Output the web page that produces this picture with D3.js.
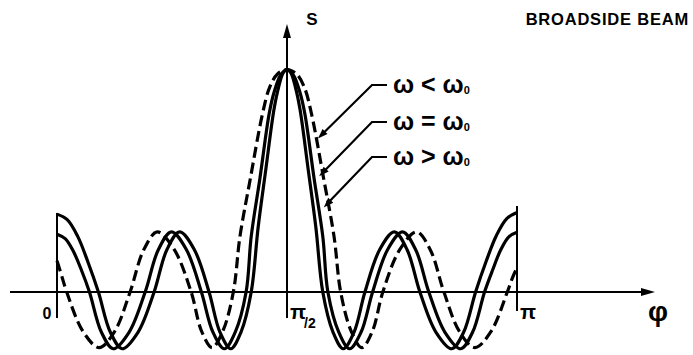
<!DOCTYPE html>
<html>
<head>
<meta charset="utf-8">
<script src="https://cdn.jsdelivr.net/npm/d3@7"></script>
<style>
  body { margin: 0; background: #fff; }
  text { font-family: "Liberation Sans", Arial, sans-serif; font-weight: bold; fill: #000; }
</style>
</head>
<body>
<svg id="chart" width="693" height="355"></svg>
<script>
// Axis ticks (φ in degrees) and their labels
const tickValues = [0, 90, 180];
const tickLabels = ["0", "π", "π"];
const seriesNames = ["ω < ω", "ω = ω", "ω > ω"];

// Radiation pattern S(φ), φ in degrees — ω < ω0 (dashed, widest main lobe)
const patternBelow = [
  [0, 0.14], [1.9, 0.07], [3.8, 0], [10.15, -0.177], [16.5, -0.25], [22.55, -0.177], [28.6, 0],
  [33.95, 0.19], [39.3, 0.27], [45.9, 0.19], [52.5, 0], [56.6, -0.177], [60.7, -0.25], [64.85, -0.177],
  [69, 0], [71.6, 0.25], [75.5, 0.5], [80.4, 0.8], [83.2, 0.92], [86.3, 0.98], [90, 1],
  [93.7, 0.98], [96.8, 0.92], [99.6, 0.8], [104.5, 0.5], [108.4, 0.25], [111, 0],
  [115.15, -0.177], [119.3, -0.25], [123.4, -0.177], [127.5, 0], [134.1, 0.19], [140.7, 0.27],
  [146.05, 0.19], [151.4, 0], [157.45, -0.177], [163.5, -0.25], [169.85, -0.177], [176.2, 0],
  [178.1, 0.06], [180, 0.11]
];

// ω = ω0
const patternEqual = [
  [0, 0.26], [3.2, 0.24], [6.35, 0.184], [9.5, 0.1], [12.7, 0], [17.35, -0.18], [22, -0.255],
  [28.25, -0.18], [34.5, 0], [39.65, 0.19], [44.8, 0.27], [50.65, 0.19], [56.5, 0], [61, -0.18],
  [65.5, -0.255], [69.75, -0.18], [74, 0], [76, 0.25], [79.4, 0.51], [83, 0.8], [85, 0.9], [87.5, 0.975],
  [90, 1],
  [92.5, 0.975], [95, 0.9], [97, 0.8], [100.6, 0.51], [104, 0.25], [106, 0], [110.25, -0.18],
  [114.5, -0.255], [119, -0.18], [123.5, 0], [129.35, 0.19], [135.2, 0.27], [140.35, 0.19], [145.5, 0],
  [151.75, -0.18], [158, -0.255], [162.65, -0.18], [167.3, 0], [170.5, 0.1], [173.65, 0.19],
  [176.8, 0.248], [180, 0.268]
];

// ω > ω0 (narrowest main lobe)
const patternAbove = [
  [0, 0.35], [4, 0.325], [8.1, 0.25], [12.1, 0.135], [16.2, 0], [20.85, -0.18], [25.5, -0.255],
  [31.75, -0.18], [38, 0], [43, 0.19], [48, 0.27], [53.75, 0.19], [59.5, 0], [63.75, -0.18],
  [68, -0.255], [72, -0.18], [76, 0], [78.7, 0.29], [81.7, 0.55], [84.9, 0.82], [86.7, 0.92],
  [88.5, 0.985], [90, 1],
  [91.5, 0.985], [93.3, 0.92], [95.1, 0.82], [98.3, 0.55], [101.3, 0.29], [104, 0], [108, -0.18],
  [112, -0.255], [116.25, -0.18], [120.5, 0], [126.25, 0.19], [132, 0.27], [137, 0.19], [142, 0],
  [148.25, -0.18], [154.5, -0.255], [159.15, -0.18], [163.8, 0], [167.9, 0.137], [171.9, 0.253],
  [176, 0.33], [180, 0.357]
];

const svg = d3.select("#chart");
const x = d3.scaleLinear().domain([0, 180]).range([57, 517]);
const y = d3.scaleLinear().domain([0, 1]).range([292, 69.5]);

function arrowHead(tx, ty, fx, fy, len, half) {
  const a = Math.atan2(ty - fy, tx - fx);
  const bx = tx - len * Math.cos(a), by = ty - len * Math.sin(a);
  const px = -Math.sin(a) * half, py = Math.cos(a) * half;
  return `M${tx},${ty}L${bx + px},${by + py}L${bx - px},${by - py}Z`;
}

const ink = "#000";

// φ axis with arrow
const axisY = y(0);
svg.append("line").attr("x1", 10).attr("x2", 645).attr("y1", axisY).attr("y2", axisY)
  .attr("stroke", ink).attr("stroke-width", 2.2);
svg.append("path").attr("d", arrowHead(655, axisY, 10, axisY, 14, 4)).attr("fill", ink);

// S axis at φ = π/2, with arrow
const cx = x(90);
svg.append("line").attr("x1", cx).attr("x2", cx).attr("y1", 318).attr("y2", 34)
  .attr("stroke", ink).attr("stroke-width", 2);
svg.append("path").attr("d", arrowHead(cx, 24, cx, 318, 14, 4)).attr("fill", ink);

// Boundary lines at φ = 0 and φ = π
svg.append("line").attr("x1", x(0)).attr("x2", x(0)).attr("y1", 213).attr("y2", 318)
  .attr("stroke", ink).attr("stroke-width", 2);
svg.append("line").attr("x1", x(180)).attr("x2", x(180)).attr("y1", 206).attr("y2", 311)
  .attr("stroke", ink).attr("stroke-width", 2);

// Pattern curves
const line = d3.line().x(d => x(d[0])).y(d => y(d[1])).curve(d3.curveCatmullRom.alpha(0.5));
const series = [
  { data: patternBelow, dash: "11,5" },
  { data: patternEqual, dash: null },
  { data: patternAbove, dash: null }
];
svg.append("g").selectAll("path").data(series).join("path")
  .attr("d", d => line(d.data))
  .attr("fill", "none")
  .attr("stroke", ink)
  .attr("stroke-width", 3.2)
  .attr("stroke-linejoin", "round")
  .attr("stroke-dasharray", d => d.dash);

// Tick labels
const tickOffsets = [-10, 3, 3];
const tickGroup = svg.append("g");
tickValues.forEach((v, i) => {
  const t = tickGroup.append("text")
    .attr("x", x(v) + tickOffsets[i])
    .attr("y", 319)
    .attr("font-size", i === 0 ? 16 : 21)
    .attr("text-anchor", i === 0 ? "middle" : "start")
    .text(tickLabels[i]);
  if (i === 1) {
    t.append("tspan").attr("font-size", 14).attr("dx", -2).attr("dy", 9).text("/2");
  }
});

// Axis titles
svg.append("text").attr("x", 312).attr("y", 25).attr("font-size", 17)
  .attr("text-anchor", "middle").text("S");
svg.append("text").attr("x", 658).attr("y", 321).attr("font-size", 28)
  .attr("text-anchor", "middle").text("φ");
svg.append("text").attr("x", 689).attr("y", 25).attr("font-size", 16.5)
  .attr("letter-spacing", 0.8).attr("text-anchor", "end").text("BROADSIDE  BEAM");

// Leaders to each curve with labels
const leaders = [
  { tip: [102.1, 0.69], elbowY: 85 },
  { tip: [102.6, 0.52], elbowY: 122 },
  { tip: [104.4, 0.38], elbowY: 157 }
];
const lg = svg.append("g");
leaders.forEach((l, i) => {
  const tx = x(l.tip[0]), ty = y(l.tip[1]);
  const ex = 372, ey = l.elbowY;
  const a = Math.atan2(ty - ey, tx - ex);
  lg.append("path")
    .attr("d", `M387,${ey}L${ex},${ey}L${tx - 6 * Math.cos(a)},${ty - 6 * Math.sin(a)}`)
    .attr("fill", "none").attr("stroke", ink).attr("stroke-width", 2.2);
  lg.append("path").attr("d", arrowHead(tx, ty, ex, ey, 10, 3.5)).attr("fill", ink);
  const t = lg.append("text").attr("x", 393).attr("y", ey + 8).attr("font-size", 25)
    .text(seriesNames[i]);
  t.append("tspan").attr("font-size", 11).attr("dy", 1).text("0");
});
</script>
</body>
</html>
